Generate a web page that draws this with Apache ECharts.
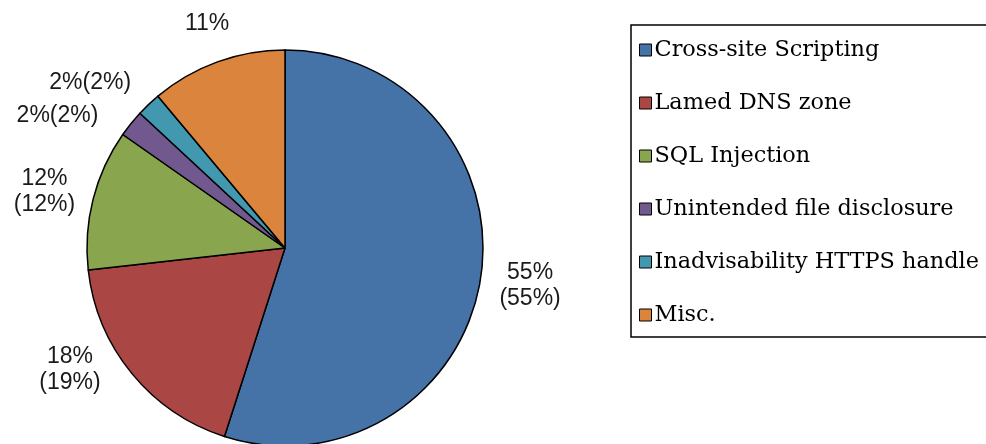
<!DOCTYPE html>
<html lang="en">
<head>
    <meta charset="UTF-8"/>
    <title>pie</title>
    <script src="https://cdn.jsdelivr.net/npm/echarts@6/dist/echarts.min.js"></script>
    <style>
        html, body { margin: 0; padding: 0; background: #fff; }
    </style>
</head>
<body>
<div id="main" style="width: 986px;height:444px;"></div>

<script type="text/javascript">
    // data
    var names = ['Cross-site Scripting', 'Lamed DNS zone', 'SQL Injection',
        'Unintended file disclosure', 'Inadvisability HTTPS handle', 'Misc.'];
    var values = [55, 18.3, 11.5, 2.2, 2.0, 11.1];
    var labels = ['55%\n(55%)', '18%\n(19%)', '12%\n(12%)', '2%(2%)', '2%(2%)', '11%'];
    var colors = ['#4572A7', '#AA4643', '#89A54E', '#71588F', '#4198AF', '#DB843D'];

    // nudges for the outside labels (px)
    var labelShift = [[0, 0], [-22, -32], [-5, 4], [-34, 16], [-26, 11], [10, 4]];

    var data = [];
    for (var i = 0; i < names.length; i++) {
        data.push({name: names[i], value: values[i], itemStyle: {color: colors[i]}});
    }

    var myChart = echarts.init(document.getElementById('main'));
    var option = {
        animation: false,
        legend: {
            orient: 'vertical',
            left: 631,
            top: 25,
            padding: [13, 40, 10, 8],
            borderColor: '#000',
            borderWidth: 1.5,
            itemWidth: 12,
            itemHeight: 12,
            itemGap: 29,
            icon: 'rect',
            itemStyle: {borderColor: '#000', borderWidth: 1},
            textStyle: {
                fontFamily: 'DejaVu Serif',
                fontSize: 22.4,
                color: '#000',
                lineHeight: 24,
                padding: [0, 0, 0, -2]
            },
            data: names
        },
        series: [
            {
                type: 'pie',
                center: [285, 248],
                radius: 198,
                startAngle: 90,
                clockwise: true,
                data: data,
                itemStyle: {borderColor: '#000', borderWidth: 1.5},
                label: {
                    position: 'outside',
                    fontFamily: 'Liberation Sans',
                    fontSize: 23,
                    lineHeight: 26,
                    color: '#1a1a1a',
                    overflow: 'none',
                    formatter: function (p) {
                        return labels[p.dataIndex];
                    }
                },
                labelLine: {show: false, length: 45, length2: 0},
                labelLayout: function (p) {
                    return {
                        align: 'center',
                        dx: labelShift[p.dataIndex][0],
                        dy: labelShift[p.dataIndex][1]
                    };
                },
                emphasis: {disabled: true}
            }
        ]
    };
    myChart.setOption(option);
</script>
</body>
</html>
